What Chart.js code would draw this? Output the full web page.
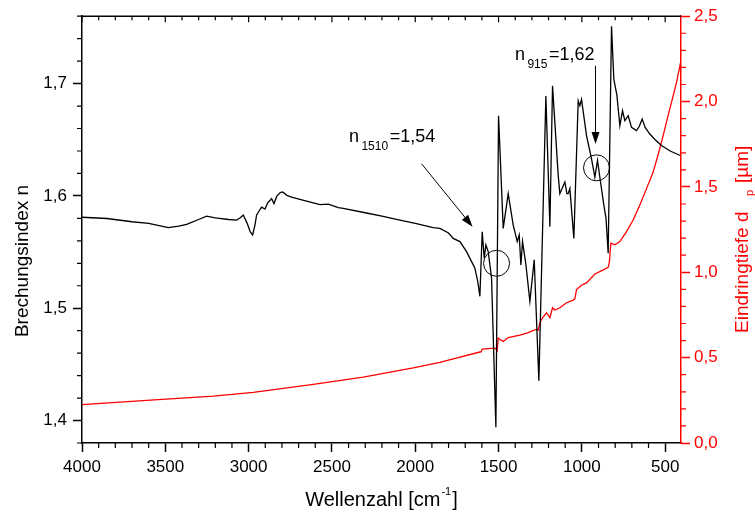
<!DOCTYPE html>
<html lang="de">
<head>
<meta charset="utf-8">
<title>Brechungsindex und Eindringtiefe</title>
<script src="https://cdn.jsdelivr.net/npm/chart.js@4.4.0/dist/chart.umd.min.js"></script>
<style>
  html, body { margin: 0; padding: 0; background: #fff; }
  #box { position: relative; width: 755px; height: 515px; }
</style>
</head>
<body>
<div id="box"><canvas id="spektrum"></canvas></div>
<script>
// Brechungsindex n ueber Wellenzahl (schwarze Kurve, linke Achse)
const wellenzahlN = [4000, 3850, 3700, 3600, 3482, 3420, 3372, 3300, 3252, 3200, 3120, 3072, 3050, 3032,
  3010, 2990, 2976, 2962, 2952, 2935, 2922, 2902, 2885, 2875, 2862, 2848, 2830, 2810, 2796, 2770, 2742,
  2692, 2572, 2522, 2462, 2432, 2300, 2200, 2092, 2000, 1892, 1852, 1800, 1772, 1732, 1692, 1652, 1642,
  1625, 1612, 1598, 1586, 1576, 1562, 1542, 1516, 1500, 1472, 1442, 1412, 1388, 1376, 1366, 1356, 1336,
  1312, 1286, 1258, 1216, 1192, 1176, 1142, 1132, 1102, 1090, 1082, 1072, 1048, 1022, 1012, 1002, 972,
  942, 922, 906, 888, 868, 855, 842, 822, 808, 790, 772, 756, 742, 722, 702, 672, 655, 638, 620, 592,
  560, 522, 470, 410];
const brechungsindex = [1.581, 1.5799, 1.577, 1.5755, 1.5717, 1.573, 1.5746, 1.579, 1.582, 1.5805, 1.579,
  1.5785, 1.5805, 1.583, 1.576, 1.568, 1.5652, 1.574, 1.583, 1.587, 1.590, 1.5882, 1.594, 1.5955, 1.5976,
  1.5932, 1.600, 1.603, 1.6035, 1.6005, 1.599, 1.597, 1.5923, 1.5926, 1.5896, 1.5888, 1.585, 1.582,
  1.5785, 1.5755, 1.5717, 1.5711, 1.567, 1.5622, 1.5593, 1.5504, 1.5386, 1.5357, 1.524, 1.5106, 1.5681,
  1.5445, 1.5564, 1.5504, 1.5268, 1.394, 1.6714, 1.5711, 1.602, 1.574, 1.5593, 1.5652, 1.5386, 1.5593,
  1.539, 1.5062, 1.5431, 1.4354, 1.689, 1.5726, 1.698, 1.6183, 1.602, 1.6124, 1.602, 1.602, 1.6065,
  1.5622, 1.6846, 1.6802, 1.686, 1.6537, 1.633, 1.6168, 1.6316, 1.6124, 1.5918, 1.58, 1.549, 1.751,
  1.7038, 1.69, 1.6626, 1.6758, 1.667, 1.6714, 1.661, 1.6581, 1.662, 1.6684, 1.661, 1.6551, 1.650,
  1.6449, 1.640, 1.636];

// Eindringtiefe dp in um (rote Kurve, rechte Achse)
const wellenzahlD = [4000, 3612, 3212, 2972, 2612, 2312, 2012, 1852, 1812, 1612, 1604, 1598, 1522, 1512,
  1508, 1502, 1490, 1472, 1442, 1372, 1322, 1272, 1262, 1252, 1235, 1212, 1192, 1176, 1162, 1132, 1092,
  1052, 1042, 1032, 1002, 972, 922, 880, 842, 835, 826, 802, 772, 732, 692, 652, 612, 572, 542, 512,
  482, 452, 430, 408];
const eindringtiefe = [0.225, 0.25, 0.275, 0.2965, 0.343, 0.3855, 0.44, 0.4727, 0.4826, 0.533, 0.534,
  0.55, 0.556, 0.548, 0.541, 0.6145, 0.605, 0.595, 0.618, 0.632, 0.647, 0.667, 0.661, 0.705, 0.735,
  0.763, 0.734, 0.792, 0.779, 0.792, 0.8215, 0.837, 0.845, 0.899, 0.924, 0.938, 0.990, 1.010, 1.029,
  1.06, 1.170, 1.161, 1.180, 1.238, 1.306, 1.394, 1.49, 1.587, 1.69, 1.80, 1.92, 2.033, 2.12, 2.227];

// Achsenbeschriftung
const xTicks = [4000, 3500, 3000, 2500, 2000, 1500, 1000, 500];
const nTicks = [1.4, 1.5, 1.6, 1.7];
const dTicks = [0, 0.5, 1.0, 1.5, 2.0, 2.5];

// Markierungen (Wellenzahl, n)
const kreise = [[1512, 1.540], [912, 1.625]];
const pfeile = [[1962, 1.6286, 1656, 1.5726], [918, 1.7159, 918, 1.6463]];
const beschriftungen = [
  { x: 2398, y: 1.6478, index: '1510', wert: '=1,54' },
  { x: 1402, y: 1.7208, index: '915', wert: '=1,62' }
];

const schrift = '"Liberation Sans", Arial, sans-serif';
Chart.defaults.font.family = schrift;
Chart.defaults.font.size = 16;

function komma(v) {
  return v.toFixed(1).replace('.', ',');
}

function schreibe(ctx, teile, x, y) {
  for (const [text, groesse, dy, abstand] of teile) {
    ctx.font = groesse + 'px ' + schrift;
    ctx.fillText(text, x, y + dy);
    x += ctx.measureText(text).width + (abstand || 0);
  }
}

function pfeil(ctx, x1, y1, x2, y2) {
  const a = Math.atan2(y2 - y1, x2 - x1);
  const len = 12, half = 4;
  ctx.beginPath();
  ctx.moveTo(x1, y1);
  ctx.lineTo(x2 - len * 0.8 * Math.cos(a), y2 - len * 0.8 * Math.sin(a));
  ctx.stroke();
  ctx.beginPath();
  ctx.moveTo(x2, y2);
  ctx.lineTo(x2 - len * Math.cos(a) + half * Math.sin(a), y2 - len * Math.sin(a) - half * Math.cos(a));
  ctx.lineTo(x2 - len * Math.cos(a) - half * Math.sin(a), y2 - len * Math.sin(a) + half * Math.cos(a));
  ctx.closePath();
  ctx.fill();
}

const zusatz = {
  id: 'zusatz',
  afterDraw(chart) {
    const ctx = chart.ctx;
    const ca = chart.chartArea;
    const xs = chart.scales.x, yl = chart.scales.y, yr = chart.scales.y2;
    ctx.save();

    // Rahmen oben und Nebenstriche
    ctx.strokeStyle = '#000';
    ctx.lineWidth = 1.5;
    ctx.beginPath();
    ctx.moveTo(ca.left, ca.top);
    ctx.lineTo(ca.right, ca.top);
    ctx.stroke();

    ctx.lineWidth = 1.2;
    ctx.beginPath();
    for (let w = 500; w <= 4000; w += 100) {
      const px = xs.getPixelForValue(w);
      ctx.moveTo(px, ca.top);
      ctx.lineTo(px, ca.top + (w % 500 === 0 ? 6 : 4));
      if (w % 500 !== 0) {
        ctx.moveTo(px, ca.bottom);
        ctx.lineTo(px, ca.bottom + 5);
      }
    }
    for (let k = 69; k <= 88; k++) {
      if (k % 5 === 0) continue;
      const py = yl.getPixelForValue(k * 0.02);
      ctx.moveTo(ca.left, py);
      ctx.lineTo(ca.left - 5, py);
    }
    ctx.stroke();

    ctx.strokeStyle = '#f00';
    ctx.beginPath();
    for (let k = 0; k <= 25; k++) {
      if (k % 5 === 0) continue;
      const py = yr.getPixelForValue(k * 0.1);
      ctx.moveTo(ca.right, py);
      ctx.lineTo(ca.right + 5, py);
    }
    ctx.stroke();

    // Achsentitel
    ctx.fillStyle = '#000';
    ctx.textBaseline = 'alphabetic';
    ctx.textAlign = 'left';
    ctx.font = '20px ' + schrift;
    const b1 = ctx.measureText('Wellenzahl [cm').width;
    ctx.font = '11px ' + schrift;
    const b2 = ctx.measureText('-1').width;
    ctx.font = '20px ' + schrift;
    const b3 = ctx.measureText(']').width;
    const mitte = (ca.left + ca.right) / 2;
    schreibe(ctx, [['Wellenzahl [cm', 20, 0, 1], ['-1', 11, -11, 1], [']', 20, 0]],
      mitte - (b1 + b2 + b3 + 2) / 2, 506);

    ctx.save();
    ctx.translate(28, 261);
    ctx.rotate(-Math.PI / 2);
    ctx.textAlign = 'center';
    ctx.font = '19px ' + schrift;
    ctx.fillText('Brechungsindex n', 0, 0);
    ctx.restore();

    ctx.save();
    ctx.fillStyle = '#f00';
    ctx.translate(748, 333);
    ctx.rotate(-Math.PI / 2);
    ctx.font = '19px ' + schrift;
    ctx.fillText('Eindringtiefe d', 0, 0);
    ctx.font = '11px ' + schrift;
    ctx.fillText('p', 137, 5);
    ctx.font = '19px ' + schrift;
    ctx.fillText('[µm]', 150, 0);
    ctx.restore();

    // Markierungen
    ctx.strokeStyle = '#000';
    ctx.fillStyle = '#000';
    ctx.lineWidth = 1;
    for (const [w, n] of kreise) {
      ctx.beginPath();
      ctx.arc(xs.getPixelForValue(w), yl.getPixelForValue(n), 13, 0, Math.PI * 2);
      ctx.stroke();
    }
    for (const [w1, n1, w2, n2] of pfeile) {
      pfeil(ctx, xs.getPixelForValue(w1), yl.getPixelForValue(n1),
        xs.getPixelForValue(w2), yl.getPixelForValue(n2));
    }
    for (const b of beschriftungen) {
      schreibe(ctx, [['n', 18, 0, 2.5], [b.index, 12, 8, 1.5], [b.wert, 18, 0]],
        xs.getPixelForValue(b.x), yl.getPixelForValue(b.y));
    }
    ctx.restore();
  }
};

const achse = { drawOnChartArea: false, color: '#000', tickLength: 9, tickWidth: 1.5 };
const setzeTicks = werte => s => { s.ticks = werte.map(v => ({ value: v })); };

new Chart(document.getElementById('spektrum'), {
  type: 'line',
  data: {
    datasets: [
      {
        label: 'Brechungsindex n',
        data: wellenzahlN.map((w, i) => ({ x: w, y: brechungsindex[i] })),
        yAxisID: 'y',
        borderColor: '#000',
        borderWidth: 1.3,
        pointRadius: 0,
        tension: 0
      },
      {
        label: 'Eindringtiefe dp',
        data: wellenzahlD.map((w, i) => ({ x: w, y: eindringtiefe[i] })),
        yAxisID: 'y2',
        borderColor: '#f00',
        borderWidth: 1.3,
        pointRadius: 0,
        tension: 0
      }
    ]
  },
  options: {
    responsive: true,
    maintainAspectRatio: false,
    animation: false,
    layout: { padding: { top: 13, left: 0, right: 0, bottom: 0 } },
    plugins: { legend: { display: false }, tooltip: { enabled: false } },
    scales: {
      x: {
        type: 'linear',
        reverse: true,
        min: 405,
        max: 4000,
        afterBuildTicks: setzeTicks(xTicks),
        ticks: { color: '#000', padding: 5, maxRotation: 0, autoSkip: false, font: { size: 17 },
          callback: v => String(v) },
        grid: achse,
        border: { color: '#000', width: 1.5 },
        afterFit: s => { s.height = 72; }
      },
      y: {
        position: 'left',
        min: 1.38,
        max: 1.76,
        afterBuildTicks: setzeTicks(nTicks),
        ticks: { color: '#000', padding: 6, font: { size: 17 }, callback: v => komma(v) },
        grid: achse,
        border: { color: '#000', width: 1.5 },
        afterFit: s => { s.width = 82; }
      },
      y2: {
        position: 'right',
        min: 0,
        max: 2.5,
        afterBuildTicks: setzeTicks(dTicks),
        ticks: { color: '#f00', padding: 4, font: { size: 17 }, callback: v => komma(v) },
        grid: { drawOnChartArea: false, color: '#f00', tickLength: 9, tickWidth: 1.5 },
        border: { color: '#f00', width: 1.5 },
        afterFit: s => { s.width = 74; }
      }
    }
  },
  plugins: [zusatz]
});
</script>
</body>
</html>
